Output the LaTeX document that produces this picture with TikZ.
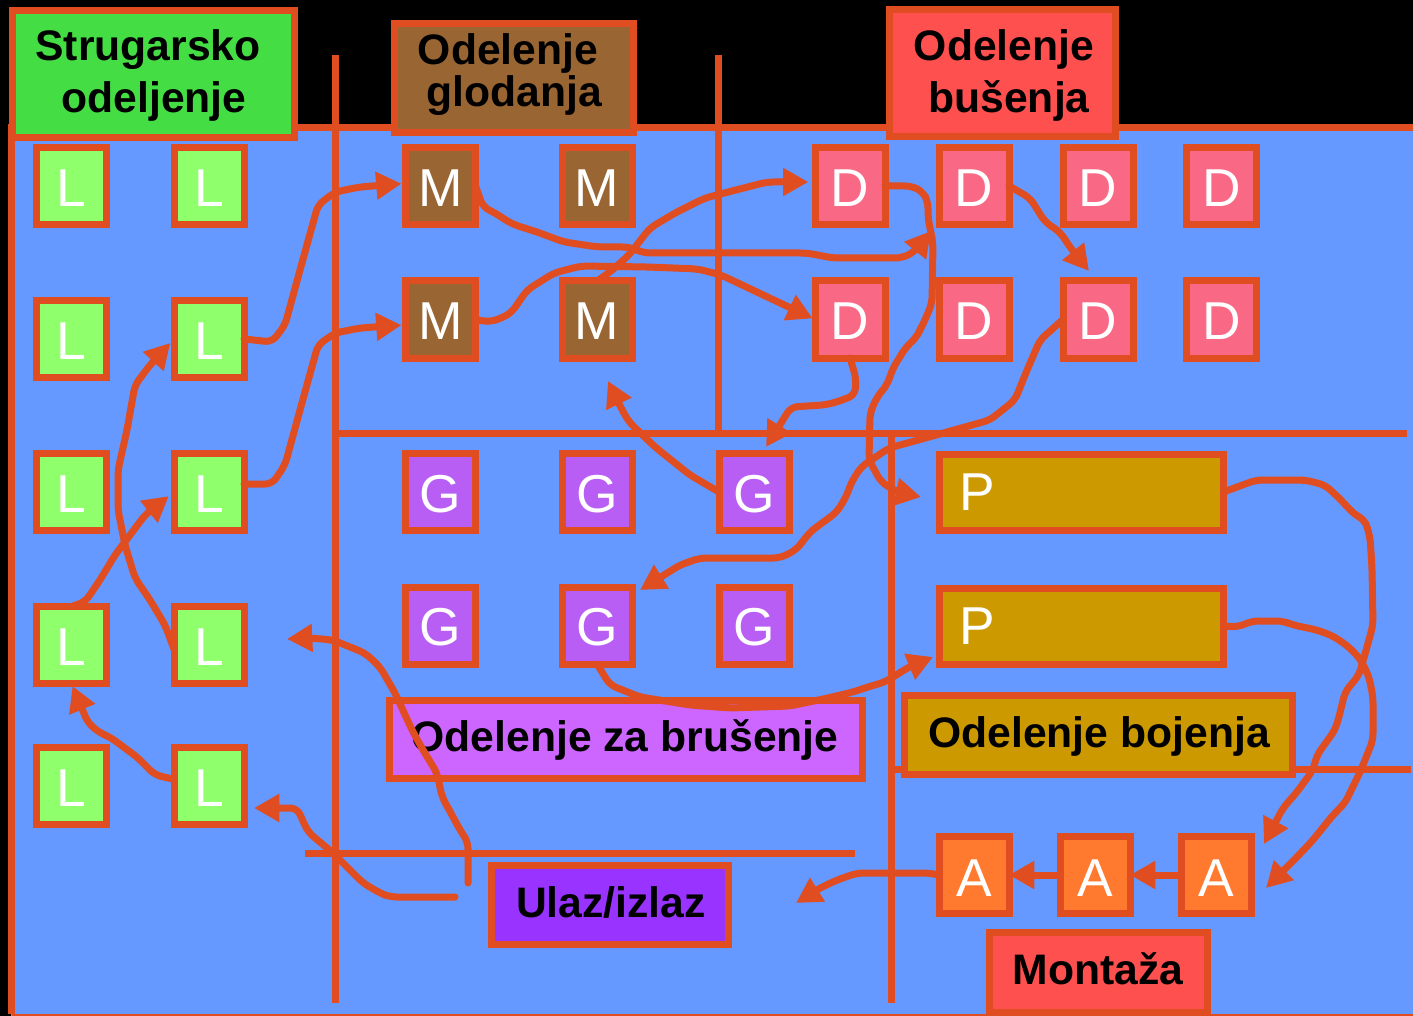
\documentclass[tikz,border=0pt]{standalone}
\usepackage{fontspec}
\setmainfont{Liberation Sans}
\usetikzlibrary{arrows.meta}
\definecolor{ored}{HTML}{DF4D21}
\definecolor{bluebg}{HTML}{6699FF}
\definecolor{cL}{HTML}{8FFF6B}
\definecolor{cM}{HTML}{996633}
\definecolor{cD}{HTML}{F96884}
\definecolor{cG}{HTML}{B95EF5}
\definecolor{cP}{HTML}{CC9900}
\definecolor{cA}{HTML}{FF7A2E}
\definecolor{cStrug}{HTML}{44DD44}
\definecolor{cBus}{HTML}{FF5050}
\definecolor{cBrus}{HTML}{CC66FF}
\definecolor{cUlaz}{HTML}{9933FF}
\tikzset{
  wall/.style={draw=ored,line width=5.25pt},
  mach/.style={draw=ored,line width=5.25pt,outer sep=0pt,inner sep=0pt,minimum width=52.5pt,minimum height=57.75pt,text=white,font=\fontsize{40}{40}\selectfont,text height=30.5pt,text depth=0pt},
  asm/.style={mach,minimum width=52.5pt,text height=31.5pt},
  paint/.style={draw=ored,line width=5.25pt,outer sep=0pt,minimum width=213pt,minimum height=57pt},
  ptext/.style={text=white,font=\fontsize{40}{40}\selectfont,inner sep=0pt},
  lab/.style={draw=ored,line width=5.25pt,outer sep=0pt,inner sep=0pt},
  labtext/.style={text=black,font=\fontsize{32}{32}\bfseries\selectfont,inner sep=0pt,align=center},
  flow/.style={draw=ored,line width=5.25pt,rounded corners=5pt,line cap=round,line join=round,-{Triangle[length=19pt,width=20pt]}},
}
\begin{document}
\begin{tikzpicture}[x=0.75pt,y=-0.75pt]
\useasboundingbox (0,0) rectangle (1413,1016);
\fill[black] (0,0) rectangle (1413,1016);
\fill[bluebg] (11,128) rectangle (1413,1016);
\draw[wall] (1413,128) -- (11.5,128) -- (11.5,1014);
\draw[draw=ored,line width=2.25pt] (11.5,1015) -- (1413,1015);
% walls
\draw[wall] (335.5,55) -- (335.5,1003);
\draw[wall] (718,55) -- (718,433);
\draw[wall] (335.5,433.5) -- (1407,433.5);
\draw[wall] (891,433.5) -- (891,1003);
\draw[wall] (305,853.5) -- (855,853.5);
\draw[wall] (895,769) -- (1411,769);
% department labels
\node[lab,fill=cStrug,minimum width=212pt,minimum height=95.25pt] (strug) at (153.5,74) {};
\node[labtext] (strugT) at (148,75) {Strugarsko\\[7pt]\hspace*{9pt}odeljenje};
\node[lab,fill=cM,minimum width=179pt,minimum height=81.75pt] (glod) at (514,78) {};
\node[labtext] (glodT) at (508,74.5) {Odelenje\\[0pt]\hspace*{9pt}glodanja};
\node[lab,fill=cBus,minimum width=169.5pt,minimum height=95.25pt] (bus) at (1002.5,73.5) {};
\node[labtext] (busT) at (1004,75) {Odelenje\\[7pt]\hspace*{7.5pt}bušenja};
\node[lab,fill=cBrus,minimum width=354.75pt,minimum height=58.5pt] (brus) at (626,739.5) {};
\node[labtext] (brusT) at (625,740) {Odelenje za brušenje};
\node[lab,fill=cP,minimum width=291pt,minimum height=59.25pt] (boj) at (1098.5,735) {};
\node[labtext] (bojT) at (1099,736) {Odelenje bojenja};
\node[lab,fill=cUlaz,minimum width=177.75pt,minimum height=59.25pt] (ulaz) at (610,905) {};
\node[labtext] (ulazT) at (611,902) {Ulaz/izlaz};
\node[lab,fill=cBus,minimum width=163.5pt,minimum height=60pt] (mont) at (1098.5,972) {};
\node[labtext] (montT) at (1098,969) {Montaža};
% machines
\node[mach,fill=cL] (L11) at (71.5,186) {L};
\node[mach,fill=cL] (L12) at (209,186) {L};
\node[mach,fill=cL] (L21) at (71.5,339) {L};
\node[mach,fill=cL] (L22) at (209,339) {L};
\node[mach,fill=cL] (L31) at (71.5,492) {L};
\node[mach,fill=cL] (L32) at (209,492) {L};
\node[mach,fill=cL] (L41) at (71.5,645) {L};
\node[mach,fill=cL] (L42) at (209,645) {L};
\node[mach,fill=cL] (L51) at (71.5,786) {L};
\node[mach,fill=cL] (L52) at (209,786) {L};
\node[mach,fill=cM] (M11) at (440.5,186) {M};
\node[mach,fill=cM] (M12) at (597,186) {M};
\node[mach,fill=cM] (M21) at (440.5,319.5) {M};
\node[mach,fill=cM] (M22) at (597,319.5) {M};
\node[mach,fill=cD] (D11) at (850,186) {D};
\node[mach,fill=cD] (D12) at (974,186) {D};
\node[mach,fill=cD] (D13) at (1098,186) {D};
\node[mach,fill=cD] (D14) at (1221.5,186) {D};
\node[mach,fill=cD] (D21) at (850,319.5) {D};
\node[mach,fill=cD] (D22) at (974,319.5) {D};
\node[mach,fill=cD] (D23) at (1098,319.5) {D};
\node[mach,fill=cD] (D24) at (1221.5,319.5) {D};
\node[mach,fill=cG] (G11) at (440.5,492) {G};
\node[mach,fill=cG] (G12) at (597,492) {G};
\node[mach,fill=cG] (G13) at (754,492) {G};
\node[mach,fill=cG] (G21) at (440.5,625.5) {G};
\node[mach,fill=cG] (G22) at (597,625.5) {G};
\node[mach,fill=cG] (G23) at (754,625.5) {G};
\node[paint,fill=cP] (P1) at (1081.5,492) {};
\node[ptext] (P1T) at (977,492.5) {P};
\node[paint,fill=cP] (P2) at (1081.5,626) {};
\node[ptext] (P2T) at (977,626.5) {P};
\node[asm,fill=cA] (A1) at (974,875) {A};
\node[asm,fill=cA] (A2) at (1095,875) {A};
\node[asm,fill=cA] (A3) at (1216,875) {A};
% free ends of connectors
\coordinate (inL4) at (287,639);
\coordinate (inL5) at (254,808);
\coordinate (outU1) at (468,883);
\coordinate (outU2) at (455,897);
\coordinate (tipP1) at (921,497);
\coordinate (tipP2) at (933,657);
\coordinate (tipG13) at (766,447);
\coordinate (tipM22) at (608,381);
\coordinate (tipA3a) at (1264,844);
\coordinate (tipA3b) at (1266,888);
\coordinate (tipU) at (796,903);
\coordinate (tipD12) at (931,231);
\coordinate (tipD23) at (1089,271);
\coordinate (tipG22) at (640,590);
% connectors
\draw[flow,shorten >=3pt] (L22.east) -- (272,342) -- (285,325) -- (300,270) -- (318,205) -- (335,192) -- (360,187) -- ([yshift=2pt]M11.west);
\draw[flow,shorten >=3pt] ([yshift=6pt]L32.east) -- (272,484) -- (285,465) -- (300,410) -- (318,345) -- (335,333) -- (360,328) -- ([yshift=-4pt]M21.west);
\draw[flow,shorten >=4pt] ([yshift=-3pt]L42.west) -- (165,625) -- (150,600) -- (135,578) -- (125,545) -- (118,510) -- (118,470) -- (127,430) -- (135,385) -- (150,365) -- (L22.west);
\draw[flow,shorten >=5pt] (L41.north) -- (85,602) -- (100,580) -- (115,555) -- (130,535) -- (145,515) -- (L32.west);
\draw[flow,shorten >=2pt] ([yshift=5pt]L52.west) -- (155,775) -- (137,757) -- (110,737) -- (100,733) -- (88,723) -- (L41.south);
\draw[flow] (outU1) -- (468,842) -- (460,830) -- (452,815) -- (442,797) -- (437,773) -- (423,750) -- (412,730) -- (395,693) -- (380,667) -- (365,653) -- (350,647) -- (333,640) -- (310,638) -- (inL4);
\draw[flow] (outU2) -- (390,897) -- (380,893) -- (363,883) -- (333,853) -- (308,832) -- (297,808) -- (277,808) -- (inL5);
\draw[flow] (M11.east) -- (483,207) -- (495,213) -- (512,224) -- (537,232) -- (564,242) -- (598,247) -- (629,247) -- (644,253) -- (807,253) -- (833,258) -- (902,258) -- (914,252) -- (tipD12);
\draw[flow,shorten >=2pt] (M21.east) -- (489,322) -- (502,318) -- (512,312) -- (527,290) -- (554,273) -- (581,266) -- (648,267) -- (698,269) -- (721,275) -- (D21.west);
\draw[flow,shorten >=5pt] (M22.north) -- (610,272) -- (629,255) -- (650,228) -- (675,213) -- (705,198) -- (736,190) -- (767,182) -- ([yshift=3pt]D11.west);
\draw[flow] (D11.east) -- (912,186) -- (923,192) -- (928,202) -- (928,218) -- (933,243) -- (932,303) -- (925,320) -- (916,338) -- (906,347) -- (893,368) -- (887,385) -- (877,397) -- (870,413) -- (869,460) -- (881,482) -- (897,492) -- (tipP1);
\draw[flow] (D21.south) -- (856,378) -- (855,395) -- (837,402) -- (824,405) -- (791,407) -- (tipG13);
\draw[flow] (G13.west) -- (690,475) -- (655,447) -- (629,422) -- (621,408) -- (tipM22);
\draw[flow] (D12.east) -- (1030,198) -- (1045,222) -- (1060,232) -- (1072,250) -- (tipD23);
\draw[flow] (D23.west) -- (1040,340) -- (1025,375) -- (1015,400) -- (990,420) -- (929,437) -- (911,442) -- (889,448) -- (861,467) -- (851,483) -- (847,495) -- (837,512) -- (822,523) -- (810,532) -- (796,550) -- (780,558) -- (700,558) -- (680,565) -- (tipG22);
\draw[flow] (G22.south) -- (610,685) -- (640,697) -- (690,705) -- (730,708) -- (790,706) -- (828,698) -- (853,692) -- (871,686) -- (885,682) -- (909,667) -- (tipP2);
\draw[flow] (P1.east) -- (1256,480) -- (1305,480) -- (1325,485) -- (1339,498) -- (1355,515) -- (1365,520) -- (1370,537) -- (1372,568) -- (1373,625) -- (1367,647) -- (1359,675) -- (1345,692) -- (1339,717) -- (1335,730) -- (1317,755) -- (1313,770) -- (1297,792) -- (1283,808) -- (tipA3a);
\draw[flow] (P2.east) -- (1238,627) -- (1252,621) -- (1283,621) -- (1293,625) -- (1317,630) -- (1333,636) -- (1349,647) -- (1361,660) -- (1369,677) -- (1373,697) -- (1373,740) -- (1361,770) -- (1345,803) -- (1333,815) -- (1313,840) -- (1297,857) -- (tipA3b);
\draw[flow,shorten <=3pt] (A3.west) -- (A2.east);
\draw[flow] (A2.west) -- (A1.east);
\draw[flow] (A1.west) -- (929,873) -- (857,873) -- (837,880) -- (820,888) -- (tipU);
\end{tikzpicture}
\end{document}
